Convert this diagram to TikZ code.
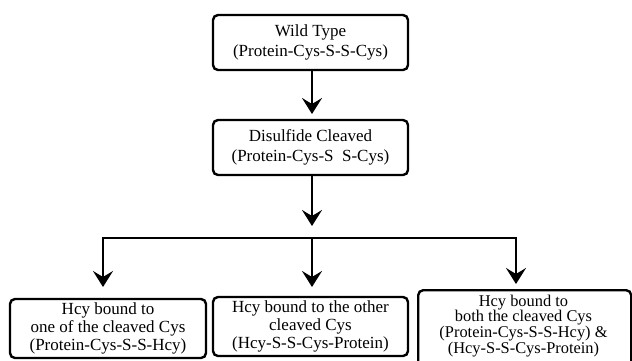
\documentclass[tikz,border=0pt]{standalone}
\usepackage{fontspec}
\setmainfont{Liberation Serif}
\usetikzlibrary{arrows.meta}
\begin{document}
\begin{tikzpicture}[x=1pt,y=-1pt,
  txt/.style={align=center,inner sep=0pt,font=\fontsize{17}{18}\selectfont},
  box/.style={txt,draw=black,line width=2.4pt,rounded corners=5pt},
  arr/.style={line width=2.8pt,-{Stealth[length=16pt,width=20pt,inset=6pt]}},
  ln/.style={line width=2.8pt}]
\useasboundingbox (0,0) rectangle (632,360);
\node[box,minimum width=195pt,minimum height=55pt,font=\fontsize{17}{20}\selectfont] (b1) at (310.5,42.5) {Wild Type\\(Protein-Cys-S-S-Cys)};
\node[box,minimum width=195pt,minimum height=55pt,font=\fontsize{17}{20}\selectfont] (b2) at (310.5,147.5) {Disulfide Cleaved\\(Protein-Cys-S\hspace{0.5em}S-Cys)};
\node[box,minimum width=196pt,minimum height=59pt] (b3) at (108,328.5) {Hcy bound to\\one of the cleaved Cys\\(Protein-Cys-S-S-Hcy)};
\node[box,minimum width=195pt,minimum height=59pt] (b4) at (310.5,326.5) {Hcy bound to the other\\cleaved Cys\\(Hcy-S-S-Cys-Protein)};
\node[box,minimum width=213pt,minimum height=78pt,anchor=north west] (b5) at (417,289) {};
\node[txt,font=\fontsize{16.4}{15.9}\selectfont,anchor=north] (t5) at (523.5,294.5) {Hcy bound to\\both the cleaved Cys\\(Protein-Cys-S-S-Hcy) \&\\(Hcy-S-S-Cys-Protein)};
\coordinate (a1) at (312,114);
\coordinate (a2) at (312,226);
\coordinate (jl) at (103,238);
\coordinate (jm) at (312,238);
\coordinate (jr) at (516,238);
\coordinate (tl) at (103,287);
\coordinate (tm) at (312,287);
\coordinate (tr) at (516,284);
\draw[arr] (b1.south -| a1) -- (a1);
\draw[arr] (b2.south -| a2) -- (a2);
\draw[ln,line cap=rect] (jl) -- (jr);
\draw[arr] (jl) -- (tl);
\draw[arr] (jm) -- (tm);
\draw[arr] (jr) -- (tr);
\end{tikzpicture}
\end{document}
